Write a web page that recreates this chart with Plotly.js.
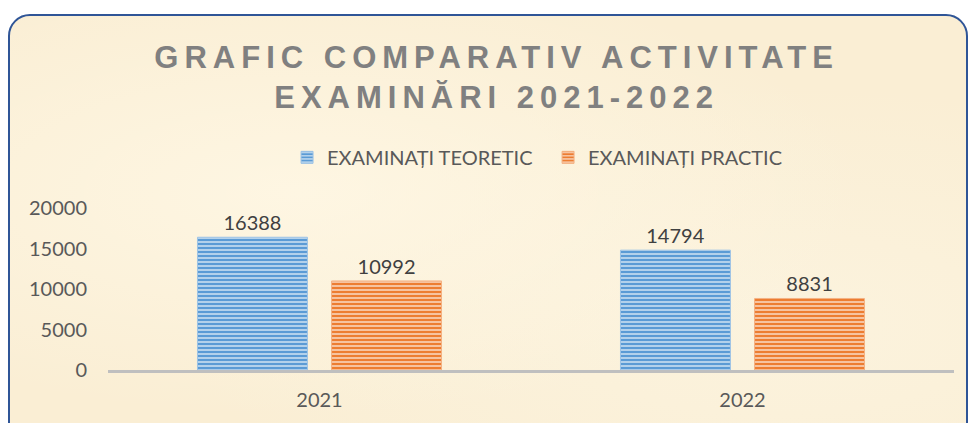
<!DOCTYPE html>
<html>
<head>
<meta charset="utf-8">
<script src="https://cdn.plot.ly/plotly-3.0.1.min.js"></script>
<style>
  html, body { margin: 0; padding: 0; background: #ffffff; }
  #frame {
    position: absolute; left: 8px; top: 14px; width: 956px; height: 440px;
    border: 2px solid #2F5597; border-radius: 22px;
    background:
      radial-gradient(ellipse at 30% 40%, rgba(255,248,230,0.8), rgba(255,248,230,0) 60%),
      radial-gradient(ellipse at 80% 70%, rgba(252,244,224,0.8), rgba(252,244,224,0) 55%),
      #FAEED4;
  }
  #target { position: absolute; left: 0; top: 0; width: 970px; height: 423px; }
</style>
</head>
<body>
<div id="frame"></div>
<div id="target"></div>
<script>
  var years = ['2021', '2022'];
  var teoretic = [16388, 14794];
  var practic = [10992, 8831];
  var yTicks = [0, 5000, 10000, 15000, 20000];

  var textColor = '#595959';
  var baseFont = 'Lato, "Open Sans", sans-serif';

  var traces = [
    {
      type: 'bar',
      name: 'EXAMINAȚI TEORETIC',
      x: years,
      y: teoretic,
      text: teoretic.map(String),
      textposition: 'outside',
      textfont: { family: baseFont, size: 20, color: '#404040' },
      cliponaxis: false,
      marker: {
        color: '#5B9BD5',
        line: { color: '#9DC3E6', width: 1 },
        pattern: { shape: '-', bgcolor: '#5B9BD5', fgcolor: '#BDD7EE', size: 4, solidity: 0.45 }
      },
      hoverinfo: 'x+y'
    },
    {
      type: 'bar',
      name: 'EXAMINAȚI PRACTIC',
      x: years,
      y: practic,
      text: practic.map(String),
      textposition: 'outside',
      textfont: { family: baseFont, size: 20, color: '#404040' },
      cliponaxis: false,
      marker: {
        color: '#ED7D31',
        line: { color: '#F4B183', width: 1 },
        pattern: { shape: '-', bgcolor: '#ED7D31', fgcolor: '#F8CBAD', size: 4, solidity: 0.45 }
      },
      hoverinfo: 'x+y'
    }
  ];

  var layout = {
    width: 970,
    height: 423,
    paper_bgcolor: 'rgba(0,0,0,0)',
    plot_bgcolor: 'rgba(0,0,0,0)',
    margin: { l: 108, r: 16, t: 208, b: 53 },
    font: { family: baseFont, size: 20, color: textColor },
    title: {
      text: 'GRAFIC COMPARATIV ACTIVITATE<br>EXAMINĂRI 2021-2022',
      font: { family: '"Liberation Sans Narrow", "Arial Narrow", "Liberation Sans", Arial, sans-serif', size: 31, color: '#808080', weight: 'bold' },
      xref: 'container', x: 0.512, xanchor: 'center',
      yref: 'container', y: 0.84, yanchor: 'top'
    },
    barmode: 'group',
    bargap: 0.366,
    bargroupgap: 0.18,
    showlegend: true,
    legend: {
      orientation: 'h',
      xref: 'container', x: 0.565, xanchor: 'center',
      yref: 'container', y: 0.628, yanchor: 'middle',
      itemwidth: 30,
      entrywidth: 216,
      font: { family: baseFont, size: 20, color: textColor },
      bgcolor: 'rgba(0,0,0,0)'
    },
    xaxis: {
      showline: true,
      linecolor: '#BFBFBF',
      linewidth: 3,
      showgrid: false,
      zeroline: false,
      ticks: '',
      ticklabelstandoff: 10,
      tickfont: { family: baseFont, size: 20, color: textColor },
      fixedrange: true
    },
    yaxis: {
      range: [0, 20000],
      tickvals: yTicks,
      ticktext: yTicks.map(String),
      showline: false,
      showgrid: false,
      zeroline: false,
      ticks: '',
      ticklabelstandoff: 20,
      tickfont: { family: baseFont, size: 20, color: textColor },
      fixedrange: true
    }
  };

  Plotly.newPlot('target', traces, layout, { displayModeBar: false, staticPlot: true }).then(function() {
    var t = document.querySelector('#target .gtitle');
    if (t) t.style.letterSpacing = '6px';
  });
</script>
</body>
</html>
